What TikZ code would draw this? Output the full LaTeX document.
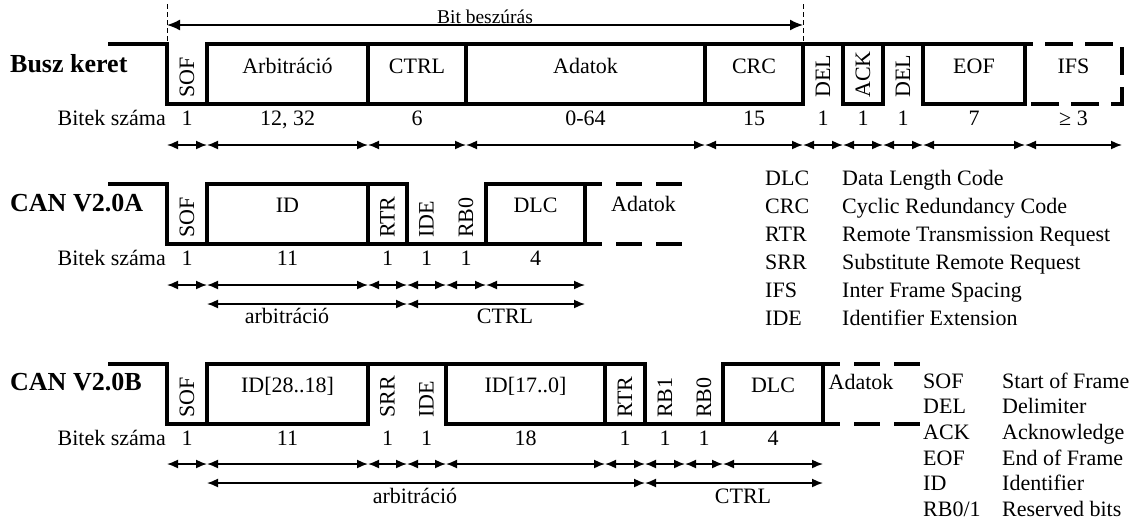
\documentclass[tikz,border=0pt]{standalone}
\usepackage{fontspec}
\setmainfont{Liberation Serif}
\usetikzlibrary{arrows.meta}
\tikzset{
	signal/.style={line width=4pt},
	openend/.style={line width=4pt, dash pattern=on 26pt off 14pt, dash phase=9pt},
	bitspan/.style={line width=1.6pt, {Latex[length=11pt,width=9pt]}-{Latex[length=11pt,width=9pt]}},
	guide/.style={line width=0.8pt, dash pattern=on 5pt off 3pt},
	field/.style={anchor=base, inner sep=0pt, font=\fontsize{22}{26}\selectfont},
	vfield/.style={rotate=90, anchor=west, inner sep=0pt, font=\fontsize{22}{26}\selectfont},
	frametitle/.style={anchor=base west, inner sep=0pt, font=\fontsize{26}{30}\selectfont\bfseries},
	abbr/.style={anchor=base west, inner sep=0pt, font=\fontsize{22}{26}\selectfont}
}
\begin{document}
\begin{tikzpicture}[x=1pt, y=-1pt]
	\useasboundingbox (0,0) rectangle (1139,522);

	\coordinate (bsL) at (167,4);
	\coordinate (bsR) at (803,4);
	\coordinate (bsLb) at (167,44);
	\coordinate (bsRb) at (803,44);
	\draw[guide] (bsL) -- (bsLb);
	\draw[guide] (bsR) -- (bsRb);
	\coordinate (bsA) at (167,25);
	\coordinate (bsB) at (803,25);
	\draw[line width=1.6pt, {Latex[length=13pt,width=11pt]}-{Latex[length=13pt,width=11pt]}] (bsA) -- (bsB);
	\node[field, font=\fontsize{19.5}{22}\selectfont] (bitstuff) at (485,23) {Bit beszúrás};

	\node[frametitle] (busz) at (10,72) {Busz keret};
	\draw[signal] (108,44) -- (167,44) -- (167,104) -- (207,104) -- (207,44) -- (1025,44) -- (1025,104) -- (923,104) -- (923,44);
	\draw[signal] (207,104) -- (803,104) -- (803,44);
	\draw[signal] (368,44) -- (368,104);
	\draw[signal] (466,44) -- (466,104);
	\draw[signal] (705,44) -- (705,104);
	\draw[signal] (843,44) -- (843,104) -- (883,104) -- (883,44);
	\draw[openend, dash pattern=on 28pt off 12pt, dash phase=20pt] (1025,44) -- (1122,44) -- (1122,104) -- (1025,104);
	\node[vfield] (sof1) at (187,98) {SOF};
	\node[field] (arb1) at (287.5,73) {Arbitráció};
	\node[field] (ctrl1) at (417,73) {CTRL};
	\node[field] (data1) at (585.5,73) {Adatok};
	\node[field] (crc1) at (754,73) {CRC};
	\node[vfield] (dela1) at (823,98) {DEL};
	\node[vfield] (ack1) at (863,98) {ACK};
	\node[vfield] (delb1) at (903,98) {DEL};
	\node[field] (eof1) at (974,73) {EOF};
	\node[field] (ifs1) at (1073.5,73) {IFS};
	\node[field, anchor=base east] (bits1) at (166,125) {Bitek száma};
	\node[field] (nsof1) at (187,125) {1};
	\node[field] (narb1) at (287.5,125) {12, 32};
	\node[field] (nctrl1) at (417,125) {6};
	\node[field] (ndata1) at (585.5,125) {0-64};
	\node[field] (ncrc1) at (754,125) {15};
	\node[field] (ndela1) at (823,125) {1};
	\node[field] (nack1) at (863,125) {1};
	\node[field] (ndelb1) at (903,125) {1};
	\node[field] (neof1) at (974,125) {7};
	\node[field] (nifs1) at (1073.5,125) {≥ 3};
	\foreach \x [count=\i] in {167,207,368,466,705,803,843,883,923,1025,1122}
		\coordinate (k\i) at (\x,145);
	\foreach \i [evaluate=\i as \j using int(\i+1)] in {1,...,10}
		\draw[bitspan] (k\i) -- (k\j);

	\node[frametitle] (cana) at (10,211) {CAN V2.0A};
	\draw[signal] (108,184) -- (167,184) -- (167,244) -- (585,244) -- (585,184) -- (486,184) -- (486,244);
	\draw[signal] (207,244) -- (207,184) -- (407,184) -- (407,244);
	\draw[signal] (368,184) -- (368,244);
	\draw[openend] (585,184) -- (683,184);
	\draw[openend] (585,244) -- (683,244);
	\node[vfield] (sof2) at (187,238) {SOF};
	\node[field] (id2) at (287.5,212) {ID};
	\node[vfield] (rtr2) at (387.5,238) {RTR};
	\node[vfield] (ide2) at (426.5,238) {IDE};
	\node[vfield] (rb02) at (466,238) {RB0};
	\node[field] (dlc2) at (535.5,212) {DLC};
	\node[field] (data2) at (643.5,211) {Adatok};
	\node[field, anchor=base east] (bits2) at (166,265) {Bitek száma};
	\node[field] (nsof2) at (187,265) {1};
	\node[field] (nid2) at (287.5,265) {11};
	\node[field] (nrtr2) at (387.5,265) {1};
	\node[field] (nide2) at (426.5,265) {1};
	\node[field] (nrb02) at (466,265) {1};
	\node[field] (ndlc2) at (535.5,265) {4};
	\foreach \x [count=\i] in {167,207,368,407,446,486,585}
		\coordinate (m\i) at (\x,285);
	\foreach \i [evaluate=\i as \j using int(\i+1)] in {1,...,6}
		\draw[bitspan] (m\i) -- (m\j);
	\coordinate (ma) at (207,304);
	\coordinate (mb) at (407,304);
	\coordinate (mc) at (585,304);
	\draw[bitspan] (ma) -- (mb);
	\draw[bitspan] (mb) -- (mc);
	\node[field] (arbit2) at (287,323) {arbitráció};
	\node[field] (ctrl2) at (505,323) {CTRL};

	\node[frametitle] (canb) at (10,390) {CAN V2.0B};
	\draw[signal] (108,364) -- (167,364) -- (167,424) -- (207,424) -- (207,364) -- (645,364) -- (645,424);
	\draw[signal] (207,424) -- (368,424) -- (368,364);
	\draw[signal] (446,364) -- (446,424) -- (823,424) -- (823,364) -- (723,364) -- (723,424);
	\draw[signal] (605,364) -- (605,424);
	\draw[openend] (823,364) -- (923,364);
	\draw[openend] (823,424) -- (923,424);
	\node[vfield] (sof3) at (187,418) {SOF};
	\node[field] (ida3) at (287.5,392) {ID[28..18]};
	\node[vfield] (srr3) at (387.5,418) {SRR};
	\node[vfield] (ide3) at (426.5,418) {IDE};
	\node[field] (idb3) at (525.5,392) {ID[17..0]};
	\node[vfield] (rtr3) at (625,418) {RTR};
	\node[vfield] (rb13) at (665,418) {RB1};
	\node[vfield] (rb03) at (704,418) {RB0};
	\node[field] (dlc3) at (773,392) {DLC};
	\node[field] (data3) at (861,389) {Adatok};
	\node[field, anchor=base east] (bits3) at (166,445) {Bitek száma};
	\node[field] (nsof3) at (187,445) {1};
	\node[field] (nida3) at (287.5,445) {11};
	\node[field] (nsrr3) at (387.5,445) {1};
	\node[field] (nide3) at (426.5,445) {1};
	\node[field] (nidb3) at (525.5,445) {18};
	\node[field] (nrtr3) at (625,445) {1};
	\node[field] (nrb13) at (665,445) {1};
	\node[field] (nrb03) at (704,445) {1};
	\node[field] (ndlc3) at (773,445) {4};
	\foreach \x [count=\i] in {167,207,368,407,446,605,645,685,723,823}
		\coordinate (b\i) at (\x,464);
	\foreach \i [evaluate=\i as \j using int(\i+1)] in {1,...,9}
		\draw[bitspan] (b\i) -- (b\j);
	\coordinate (ba) at (207,483);
	\coordinate (bb) at (645,483);
	\coordinate (bc) at (823,483);
	\draw[bitspan] (ba) -- (bb);
	\draw[bitspan] (bb) -- (bc);
	\node[field] (arbit3) at (415,503) {arbitráció};
	\node[field] (ctrl3) at (743,503) {CTRL};

	\foreach \a/\d [count=\i] in {DLC/Data Length Code, CRC/Cyclic Redundancy Code, RTR/Remote Transmission Request, SRR/Substitute Remote Request, IFS/Inter Frame Spacing, IDE/Identifier Extension}{
		\node[abbr] (abbrA\i) at (765,157+28*\i) {\a};
		\node[abbr] (descA\i) at (842,157+28*\i) {\d};
	}
	\foreach \a/\d [count=\i] in {SOF/Start of Frame, DEL/Delimiter, ACK/Acknowledge, EOF/End of Frame, ID/Identifier, {RB0/1}/Reserved bits}{
		\node[abbr] (abbrB\i) at (923,362.3+25.7*\i) {\a};
		\node[abbr] (descB\i) at (1002,362.3+25.7*\i) {\d};
	}
\end{tikzpicture}
\end{document}
